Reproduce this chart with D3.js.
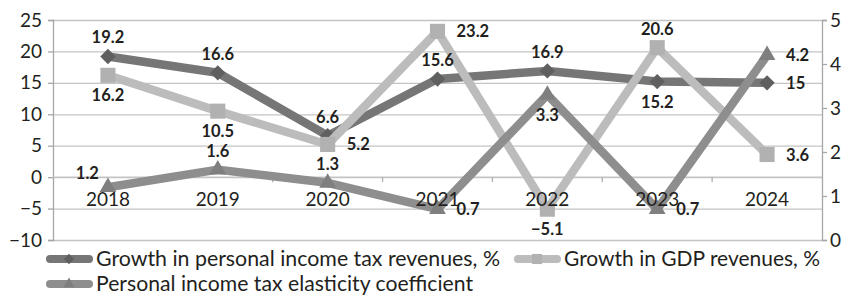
<!DOCTYPE html>
<html>
<head>
<meta charset="utf-8">
<script src="https://cdn.jsdelivr.net/npm/d3@7"></script>
<style>
  body { margin: 0; background: #fff; }
  text { font-family: Lato, "Open Sans", sans-serif; fill: #231f20; }
</style>
</head>
<body>
<div id="chart"></div>
<script>
// chart values
const years = ["2018", "2019", "2020", "2021", "2022", "2023", "2024"];
const pitGrowth = [19.2, 16.6, 6.6, 15.6, 16.9, 15.2, 15];
const gdpGrowth = [16.2, 10.5, 5.2, 23.2, -5.1, 20.6, 3.6];
const elasticity = [1.2, 1.6, 1.3, 0.7, 3.3, 0.7, 4.2];
const leftTicks = [-10, -5, 0, 5, 10, 15, 20, 25];
const rightTicks = [0, 1, 2, 3, 4, 5];
const seriesNames = [
  "Growth in personal income tax revenues, %",
  "Growth in GDP revenues, %",
  "Personal income tax elasticity coefficient"
];
// where each data label sits: t = above, b = below, r = right, l = left
const pitLabelPos = ["t", "t", "t", "t", "t", "b", "r"];
const gdpLabelPos = ["b", "b", "r", "r", "b", "t", "r"];
const elaLabelPos = ["l", "t", "t", "r", "b", "r", "r"];

function init() {
  const W = 847, H = 296;
  const plot = { left: 53, right: 822, top: 20, bottom: 240 };

  const svg = d3.select("#chart").append("svg")
    .attr("width", W).attr("height", H);

  const x = d3.scaleBand().domain(years).range([plot.left, plot.right]);
  const yL = d3.scaleLinear().domain([-10, 25]).range([plot.bottom, plot.top]);
  const yR = d3.scaleLinear().domain([0, 5]).range([plot.bottom, plot.top]);
  const cx = d => x(d) + x.bandwidth() / 2;

  // gridlines
  svg.append("g")
    .attr("transform", `translate(${plot.left},0)`)
    .call(d3.axisLeft(yL).tickValues(leftTicks).tickSize(-(plot.right - plot.left)).tickFormat(""))
    .call(g => g.select(".domain").remove())
    .selectAll("line").attr("stroke", "#c4c4c4").attr("stroke-width", 1.3);

  // left axis
  svg.append("g")
    .attr("transform", `translate(${plot.left},0)`)
    .call(d3.axisLeft(yL).tickValues(leftTicks).tickSize(5).tickPadding(6))
    .call(g => g.selectAll("line, path").attr("stroke", "#a6a6a6").attr("stroke-width", 1.3))
    .selectAll("text").style("font-size", "19px");

  // right axis
  svg.append("g")
    .attr("transform", `translate(${plot.right},0)`)
    .call(d3.axisRight(yR).tickValues(rightTicks).tickSize(5).tickPadding(3).tickFormat(d3.format("d")))
    .call(g => g.selectAll("line, path").attr("stroke", "#a6a6a6").attr("stroke-width", 1.3))
    .selectAll("text").style("font-size", "19px");

  // zero line with category separators
  svg.append("line")
    .attr("x1", plot.left).attr("x2", plot.right)
    .attr("y1", yL(0)).attr("y2", yL(0))
    .attr("stroke", "#c4c4c4").attr("stroke-width", 1.3);
  svg.append("g").selectAll("line")
    .data(years.slice(1))
    .enter().append("line")
    .attr("x1", d => x(d)).attr("x2", d => x(d))
    .attr("y1", yL(0)).attr("y2", yL(0) + 5)
    .attr("stroke", "#b0b0b0").attr("stroke-width", 1.3);

  const fmt = d3.format("~g");

  const series = [
    { values: pitGrowth, y: yL, line: "#767676", mark: "#5f5f5f", symbol: d3.symbolDiamond2, size: 150, pos: pitLabelPos },
    { values: gdpGrowth, y: yL, line: "#bcbcbc", mark: "#b1b1b1", symbol: d3.symbolSquare2, size: 290, pos: gdpLabelPos },
    { values: elasticity, y: yR, line: "#8e8e8e", mark: "#7f7f7f", symbol: d3.symbolTriangle2, size: 200, pos: elaLabelPos }
  ];

  series.forEach(s => {
    const pts = years.map((yr, i) => [cx(yr), s.y(s.values[i])]);

    svg.append("path")
      .datum(pts)
      .attr("d", d3.line())
      .attr("fill", "none")
      .attr("stroke", s.line)
      .attr("stroke-width", 8.5)
      .attr("stroke-linejoin", "round");

    svg.append("g").selectAll("path")
      .data(pts)
      .enter().append("path")
      .attr("transform", d => `translate(${d[0]},${d[1]})`)
      .attr("d", d3.symbol().type(s.symbol).size(s.size))
      .attr("fill", s.mark);
  });

  // category labels drawn over the lines
  svg.append("g")
    .attr("transform", `translate(0,${yL(0)})`)
    .call(d3.axisBottom(x).tickSize(0).tickPadding(15))
    .call(g => g.select(".domain").remove())
    .selectAll("text").style("font-size", "19px");

  // data labels
  series.forEach(s => {
    svg.append("g").selectAll("text")
      .data(s.values)
      .enter().append("text")
      .attr("x", (d, i) => {
        const px = cx(years[i]);
        if (s.pos[i] === "r") return px + 19;
        if (s.pos[i] === "l") return px - 9;
        return px;
      })
      .attr("y", (d, i) => {
        const py = s.y(d);
        if (s.pos[i] === "t") return py - 13;
        if (s.pos[i] === "b") return py + 26;
        if (s.pos[i] === "l") return py - 8;
        return py + 6;
      })
      .attr("text-anchor", (d, i) => s.pos[i] === "r" ? "start" : s.pos[i] === "l" ? "end" : "middle")
      .style("font-size", "16.5px")
      .style("font-weight", "bold")
      .text(d => fmt(d));
  });

  // legend
  const legendItems = [
    { x: 47, y: 259, s: series[0], name: seriesNames[0], w: 404 },
    { x: 515, y: 259, s: series[1], name: seriesNames[1], w: 256 },
    { x: 47, y: 284, s: series[2], name: seriesNames[2], w: 377 }
  ];
  const leg = svg.append("g").selectAll("g")
    .data(legendItems)
    .enter().append("g")
    .attr("transform", d => `translate(${d.x},${d.y})`);
  leg.append("line")
    .attr("x1", 3).attr("x2", 42)
    .attr("stroke", d => d.s.line)
    .attr("stroke-width", 8)
    .attr("stroke-linecap", "round");
  leg.append("path")
    .attr("transform", "translate(22,0)")
    .attr("d", d => d3.symbol().type(d.s.symbol).size(d.s.size * 0.45)())
    .attr("fill", d => d.s.mark);
  leg.append("text")
    .attr("x", 49).attr("y", 7)
    .style("font-size", "20.5px")
    .attr("textLength", d => d.w)
    .attr("lengthAdjust", "spacingAndGlyphs")
    .text(d => d.name);
}

window.onload = init;
</script>
</body>
</html>
